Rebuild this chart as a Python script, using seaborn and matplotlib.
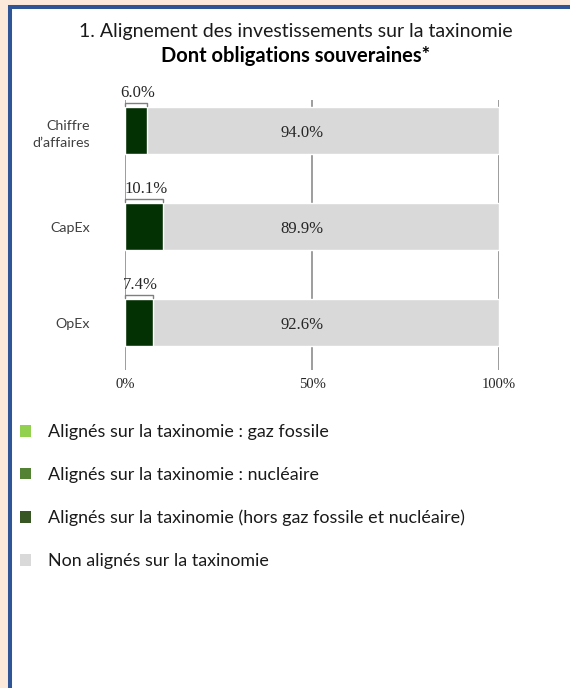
import matplotlib
matplotlib.use("Agg")
import matplotlib.pyplot as plt
import matplotlib.patches as mpatches
import seaborn as sns
import pandas as pd

# data
categories = ["Chiffre\nd\u2019affaires", "CapEx", "OpEx"]
aligned_other = [6.0, 10.1, 7.4]
not_aligned = [94.0, 89.9, 92.6]
gas_fossil = [0.0, 0.0, 0.0]
nuclear = [0.0, 0.0, 0.0]
x_ticks = [0, 50, 100]
x_tick_labels = ["0%", "50%", "100%"]
legend_labels = [
    "Alignés sur la taxinomie : gaz fossile",
    "Alignés sur la taxinomie : nucléaire",
    "Alignés sur la taxinomie (hors gaz fossile et nucléaire)",
    "Non alignés sur la taxinomie",
]
legend_colors = ["#92D050", "#548235", "#375623", "#D9D9D9"]

df = pd.DataFrame({
    "cat": categories,
    "aligned": aligned_other,
    "not_aligned": not_aligned,
})
df["total"] = df["aligned"] + df["not_aligned"]

sns.set_style("white")
plt.rcParams["font.family"] = ["Lato", "DejaVu Sans"]

W, H = 570, 688
fig = plt.figure(figsize=(W / 100, H / 100), dpi=100)
fig.patch.set_facecolor("#FDE9D9")

# white panel with blue frame
panel = mpatches.Rectangle((10 / W, -0.1), 1.2, 1.1 - 7 / H, transform=fig.transFigure,
                           facecolor="white", edgecolor="#2F5597", linewidth=2.9, zorder=-5)
fig.patches.append(panel)

ax = fig.add_axes([125 / W, 1 - 370 / H, 374 / W, 270 / H])
ax.set_facecolor("none")
ax.set_zorder(2)

# grey = full bar, dark green stacked from zero on top
sns.barplot(data=df, x="total", y="cat", orient="h", color="#D9D9D9",
            width=0.49, saturation=1, ax=ax, zorder=2)
sns.barplot(data=df, x="aligned", y="cat", orient="h", color="#033103",
            width=0.49, saturation=1, ax=ax, zorder=3)

ax.set_xlim(0, 100)
ax.set_ylim(2.49, -0.32)
for x in x_ticks:
    ax.axvline(x, color="#8C8C8C", linewidth=1.2, zorder=1)
for s in ax.spines.values():
    s.set_visible(False)

ax.set_xticks(x_ticks)
ax.set_xticklabels(x_tick_labels, family="Liberation Serif", fontsize=10.5, color="#262626")
ax.tick_params(axis="x", length=0, pad=6)
ax.tick_params(axis="y", length=0, pad=25)
for lbl in ax.get_yticklabels():
    lbl.set_fontsize(10.3)
    lbl.set_color("#404040")
    lbl.set_horizontalalignment("right")
    lbl.set_multialignment("right")
    lbl.set_linespacing(1.55)
ax.set_xlabel("")
ax.set_ylabel("")

# value labels
for i, (a, n) in enumerate(zip(aligned_other, not_aligned)):
    ax.plot([0, 0, a, a], [i - 0.26, i - 0.29, i - 0.29, i - 0.26],
            color="#7F7F7F", linewidth=1, zorder=4, clip_on=False)
    ax.text(a / 2 + 0.5, i - 0.31, f"{a:.1f}%", ha="center", va="bottom",
            family="Liberation Serif", fontsize=12, color="#262626")
    ax.text(47.3, i + 0.02, f"{n:.1f}%", ha="center", va="center",
            family="Liberation Serif", fontsize=12, color="#262626", zorder=5)

fig.text(0.5 * (78 + 513) / W, 1 - 31 / H, "1. Alignement des investissements sur la taxinomie",
         ha="center", va="center", fontsize=14, color="#1a1a1a")
fig.text(0.5 * (78 + 513) / W, 1 - 56 / H, "Dont obligations souveraines*",
         ha="center", va="center", fontsize=14.5, fontweight="bold", color="#000000")

handles = [mpatches.Patch(facecolor=c, edgecolor="none") for c in legend_colors]
fig.legend(handles, legend_labels, loc="upper left", bbox_to_anchor=(4 / W, 1 - 408 / H),
           frameon=False, fontsize=12.9, handlelength=0.62, handleheight=0.62,
           handletextpad=0.95, labelspacing=1.5, labelcolor="#1a1a1a")

fig.savefig("out.png", dpi=100, facecolor=fig.get_facecolor())
